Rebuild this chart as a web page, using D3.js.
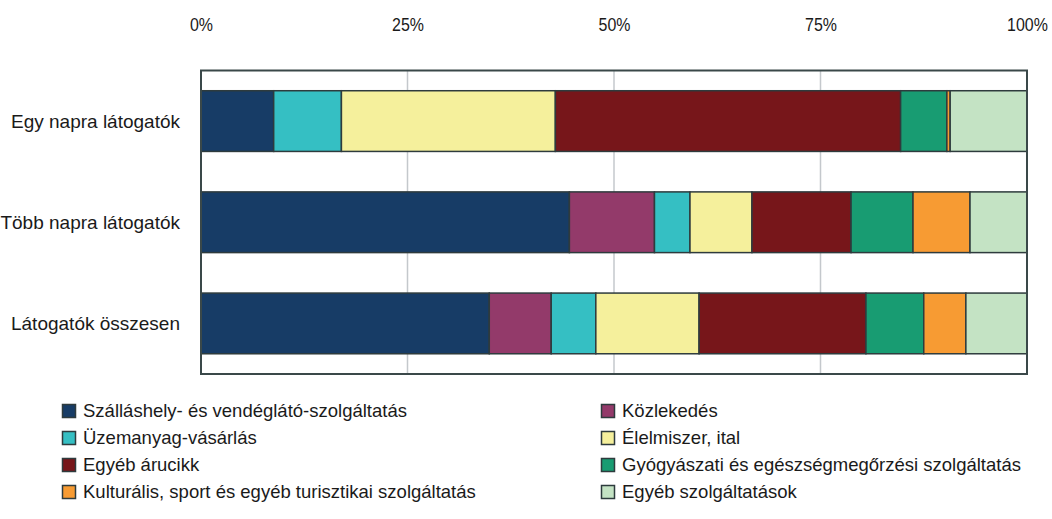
<!DOCTYPE html>
<html>
<head>
<meta charset="utf-8">
<script src="https://cdn.jsdelivr.net/npm/d3@7"></script>
<style>
  body { margin: 0; background: #fff; }
  svg text { font-family: "Liberation Sans Narrow", "Arial Narrow", "Liberation Sans", sans-serif; fill: #1a1a1a; }
</style>
</head>
<body>
<svg id="chart" width="1052" height="519"></svg>
<script>
// categories (top to bottom)
var categories = ["Egy napra látogatók", "Több napra látogatók", "Látogatók összesen"];

// series names, in stacking order
var seriesNames = [
  "Szálláshely- és vendéglátó-szolgáltatás",
  "Közlekedés",
  "Üzemanyag-vásárlás",
  "Élelmiszer, ital",
  "Egyéb árucikk",
  "Gyógyászati és egészségmegőrzési szolgáltatás",
  "Kulturális, sport és egyéb turisztikai szolgáltatás",
  "Egyéb szolgáltatások"
];

var seriesColors = ["#173c66", "#933a6a", "#35bfc3", "#f5f09c", "#77161a", "#189c72", "#f79b33", "#c4e3c4"];

// shares in %, one array per category row
var egyNapra   = [8.8, 0,    8.2, 25.9, 41.8, 5.6, 0.4, 9.3];
var tobbNapra  = [44.6, 10.3, 4.3, 7.5, 12.0, 7.5, 6.9, 6.9];
var osszesen   = [34.9, 7.5,  5.4, 12.5, 20.2, 7.0, 5.1, 7.4];

var tickValues = [0, 25, 50, 75, 100];

var rows = [egyNapra, tobbNapra, osszesen];

var margin = {top: 70.5, left: 201, right: 25, bottom: 145};
var width = 1052 - margin.left - margin.right;
var height = 519 - margin.top - margin.bottom;

var svg = d3.select("#chart");
var g = svg.append("g").attr("transform", "translate(" + margin.left + "," + margin.top + ")");

var x = d3.scaleLinear().domain([0, 100]).range([0, width]);
var y = d3.scaleBand().domain(categories).range([0, height]).paddingInner(0.4).paddingOuter(0.2);

// grid lines
g.selectAll(".grid")
  .data(tickValues.slice(1, -1))
  .enter()
  .append("line")
  .attr("x1", d => x(d)).attr("x2", d => x(d))
  .attr("y1", 0).attr("y2", height)
  .attr("stroke", "#c4c8cc")
  .attr("stroke-width", 1.5);

// stacked bars
var stackData = categories.map((c, i) => {
  var rec = {cat: c};
  seriesNames.forEach((s, j) => { rec[s] = rows[i][j]; });
  return rec;
});
var stacked = d3.stack().keys(seriesNames)(stackData);

stacked.forEach((layer, j) => {
  g.selectAll(".bar" + j)
    .data(layer.filter(d => d[1] - d[0] > 0))
    .enter()
    .append("rect")
    .attr("x", d => x(d[0]))
    .attr("width", d => x(d[1]) - x(d[0]))
    .attr("y", d => y(d.data.cat))
    .attr("height", y.bandwidth())
    .attr("fill", seriesColors[j])
    .attr("stroke", "#2e3b3d")
    .attr("stroke-width", 1.5);
});

// plot frame
g.append("rect")
  .attr("x", 0).attr("y", 0)
  .attr("width", width).attr("height", height)
  .attr("fill", "none")
  .attr("stroke", "#3a4849")
  .attr("stroke-width", 2);

// top axis labels (narrow look)
var xAxis = d3.axisTop(x).tickValues(tickValues).tickFormat(d => d + "%").tickSize(0).tickPadding(0);
var axG = g.append("g").attr("transform", "translate(0,-40)").call(xAxis);
axG.select(".domain").remove();
axG.selectAll("text")
  .attr("font-size", 19)
  .attr("fill", "#1a1a1a")
  .attr("transform", "scale(0.84,1)")
  .style("font-family", "'Liberation Sans Narrow', 'Arial Narrow', 'Liberation Sans', sans-serif");

// category labels
g.selectAll(".cat")
  .data(categories)
  .enter()
  .append("text")
  .attr("x", -21)
  .attr("y", d => y(d) + y.bandwidth() / 2)
  .attr("dy", "0.35em")
  .attr("text-anchor", "end")
  .attr("font-size", 19)
  .text(d => d);

// legend
var legend = svg.append("g").attr("transform", "translate(62,404)");
var colX = [0, 539];
var rowH = 27;
var items = legend.selectAll(".item")
  .data(seriesNames)
  .enter()
  .append("g")
  .attr("transform", (d, i) => "translate(" + colX[i % 2] + "," + Math.floor(i / 2) * rowH + ")");
items.append("rect")
  .attr("x", 0.5).attr("y", 0.5)
  .attr("width", 13).attr("height", 13)
  .attr("fill", (d, i) => seriesColors[i])
  .attr("stroke", "#2e3b3d")
  .attr("stroke-width", 1.5);
items.append("text")
  .attr("x", 21)
  .attr("y", 7)
  .attr("dy", "0.35em")
  .attr("font-size", 18.5)
  .text(d => d);
</script>
</body>
</html>
